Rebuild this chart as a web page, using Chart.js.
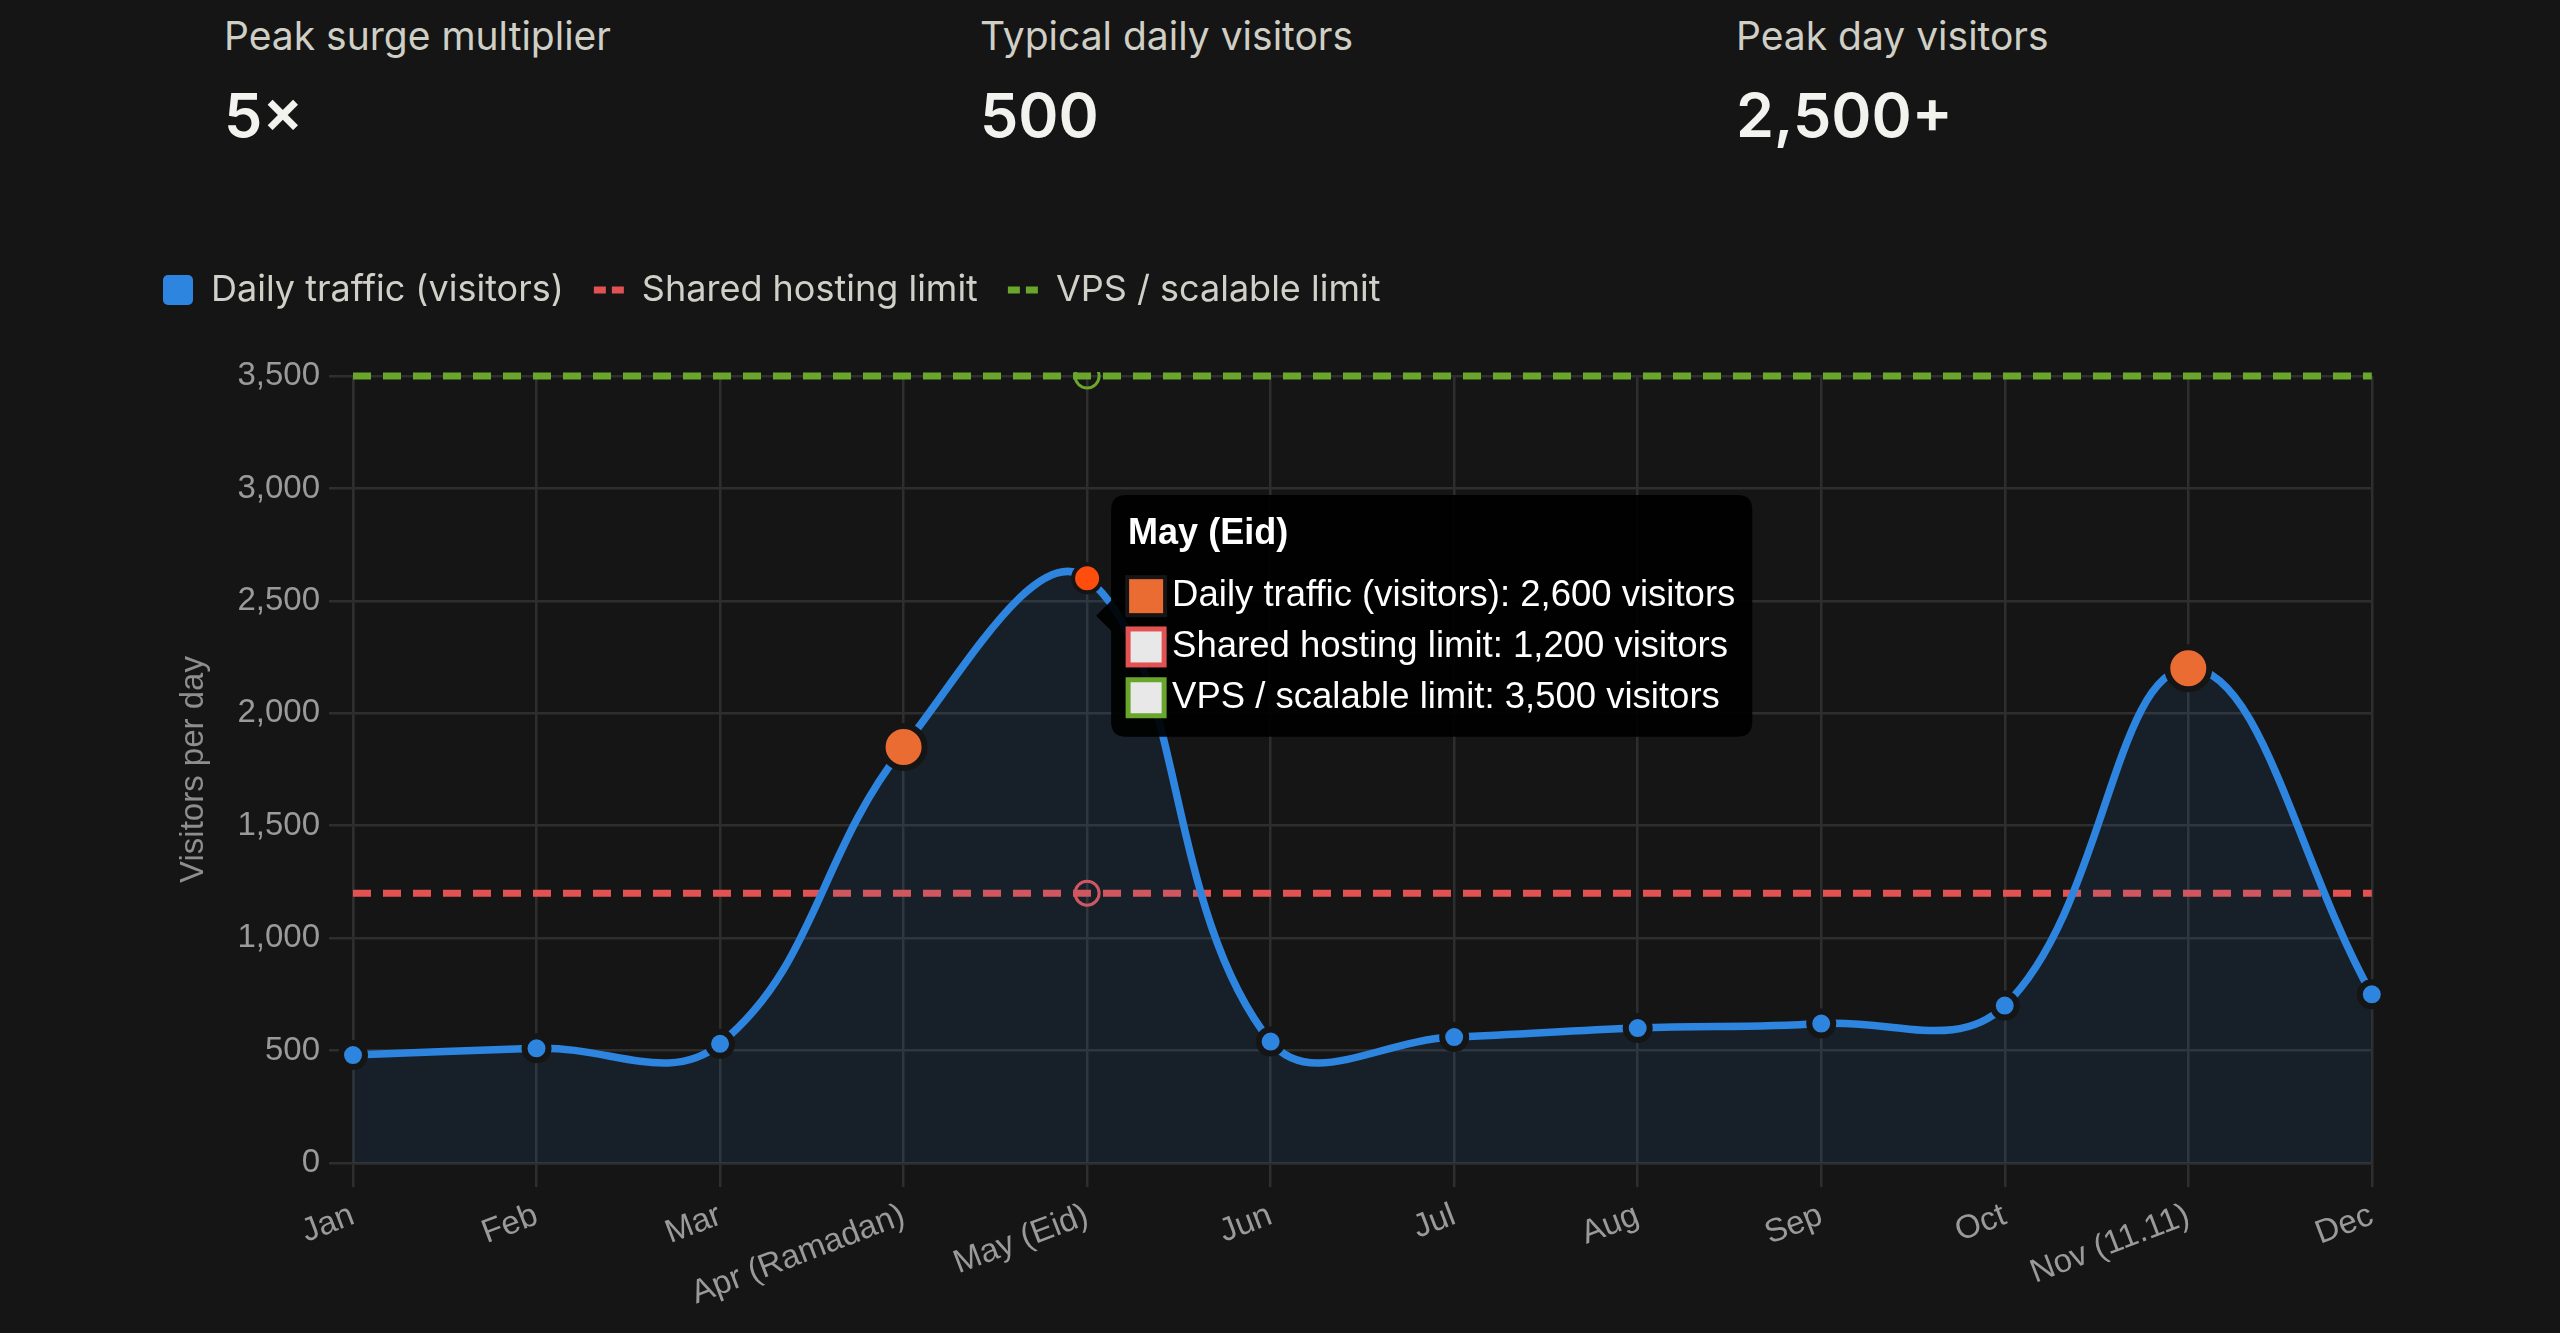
<!DOCTYPE html>
<html>
<head>
<meta charset="utf-8">
<title>Seasonal traffic vs hosting limits</title>
<script src="https://cdn.jsdelivr.net/npm/chart.js@4.4.1/dist/chart.umd.min.js"></script>
<style>
  html, body { margin: 0; padding: 0; background: #151515; }
  body { width: 2560px; height: 1333px; position: relative; overflow: hidden; font-family: Inter, "Noto Sans", sans-serif; }
  .stat { position: absolute; top: 13px; }
  .stat .label { font-size: 39px; line-height: 46px; color: #cfcfc6; }
  .stat .value { font-size: 61px; line-height: 80px; font-weight: 600; color: #f2f2ee; margin-top: 16px; }
  #chart { position: absolute; left: 133px; top: 242px; }
</style>
</head>
<body>
<div class="stat" style="left:224px"><div class="label">Peak surge multiplier</div><div class="value">5×</div></div>
<div class="stat" style="left:980px"><div class="label">Typical daily visitors</div><div class="value">500</div></div>
<div class="stat" style="left:1736px"><div class="label">Peak day visitors</div><div class="value">2,500+</div></div>

<canvas id="chart" width="2262" height="1091"></canvas>

<script>
// Data
var months = ["Jan", "Feb", "Mar", "Apr (Ramadan)", "May (Eid)", "Jun", "Jul", "Aug", "Sep", "Oct", "Nov (11.11)", "Dec"];
var dailyTraffic = [480, 510, 530, 1850, 2600, 540, 560, 600, 620, 700, 2200, 750];
var sharedLimit = [1200, 1200, 1200, 1200, 1200, 1200, 1200, 1200, 1200, 1200, 1200, 1200];
var vpsLimit = [3500, 3500, 3500, 3500, 3500, 3500, 3500, 3500, 3500, 3500, 3500, 3500];
var surgeMonths = ["Apr (Ramadan)", "May (Eid)", "Nov (11.11)"];
var yTicks = [0, 500, 1000, 1500, 2000, 2500, 3000, 3500];

var BG = "#151515";
var BLUE = "#2d85e0";
var ORANGE = "#eb6c32";
var RED = "#e25252";
var GREEN = "#6aa52c";

Chart.defaults.font.family = "Helvetica, Arial, 'Liberation Sans', sans-serif";

var isSurge = months.map(function(m){ return surgeMonths.indexOf(m) !== -1; });

// Rounded square used as the legend icon of the traffic series
function roundedBox(color)
{
    var c = document.createElement("canvas");
    c.width = 30;
    c.height = 30;
    var ctx = c.getContext("2d");
    ctx.fillStyle = color;
    ctx.beginPath();
    ctx.roundRect(0, 0, 30, 30, 5);
    ctx.fill();
    return c;
}

// Push the plot down a bit below the legend
var legendGap = {
    id: "legendGap",
    beforeInit: function(chart){
        var fit = chart.legend.fit;
        chart.legend.fit = function(){
            fit.call(this);
            this.height += 58;
        };
    }
};

var legendColors = [BLUE, RED, GREEN];
var blueIcon = roundedBox(BLUE);

var chart = new Chart(document.getElementById("chart"), {
    type: "line",
    data: {
        labels: months,
        datasets: [
            {
                label: "Daily traffic (visitors)",
                data: dailyTraffic,
                borderColor: BLUE,
                backgroundColor: "rgba(45,133,224,0.1)",
                borderWidth: 7.5,
                fill: "origin",
                tension: 0.4,
                clip: 30,
                pointRadius: isSurge.map(function(s){ return s ? 21 : 12; }),
                pointBackgroundColor: isSurge.map(function(s){ return s ? ORANGE : BLUE; }),
                pointBorderColor: BG,
                pointBorderWidth: 6,
                pointHoverRadius: 14,
                pointHoverBackgroundColor: "#ff4d0d",
                pointHoverBorderColor: BG,
                pointHoverBorderWidth: 4
            },
            {
                label: "Shared hosting limit",
                data: sharedLimit,
                borderColor: RED,
                backgroundColor: "transparent",
                borderWidth: 7,
                borderDash: [18, 12],
                fill: false,
                clip: 20,
                pointRadius: 0,
                pointBackgroundColor: "transparent",
                pointBorderColor: RED,
                pointBorderWidth: 5,
                pointHoverRadius: 12,
                pointHoverBackgroundColor: "transparent",
                pointHoverBorderColor: RED,
                pointHoverBorderWidth: 3
            },
            {
                label: "VPS / scalable limit",
                data: vpsLimit,
                borderColor: GREEN,
                backgroundColor: "transparent",
                borderWidth: 7,
                borderDash: [18, 12],
                fill: false,
                clip: 4,
                pointRadius: 0,
                pointBackgroundColor: "transparent",
                pointBorderColor: GREEN,
                pointBorderWidth: 5,
                pointHoverRadius: 12,
                pointHoverBackgroundColor: "transparent",
                pointHoverBorderColor: GREEN,
                pointHoverBorderWidth: 3
            }
        ]
    },
    options: {
        responsive: false,
        animation: false,
        events: [],
        interaction: { mode: "index", intersect: false },
        layout: { padding: 0 },
        plugins: {
            legend: {
                position: "top",
                align: "start",
                labels: {
                    usePointStyle: true,
                    pointStyleWidth: 30,
                    boxHeight: 30,
                    padding: 30,
                    color: "#d0d0c8",
                    font: { family: "Inter, 'Noto Sans', sans-serif", size: 36 },
                    generateLabels: function(chart){
                        return chart.data.datasets.map(function(ds, i){
                            return {
                                text: ds.label,
                                datasetIndex: i,
                                fillStyle: legendColors[i],
                                strokeStyle: legendColors[i],
                                lineWidth: i === 0 ? 0 : 7,
                                lineDash: i === 0 ? [] : [12, 6],
                                pointStyle: i === 0 ? blueIcon : "line",
                                fontColor: "#d0d0c8",
                                hidden: false
                            };
                        });
                    }
                }
            },
            tooltip: {
                backgroundColor: "rgba(0,0,0,0.93)",
                titleColor: "#fff",
                bodyColor: "#fff",
                titleFont: { size: 36, weight: "bold" },
                bodyFont: { size: 36.5 },
                padding: 17,
                titleMarginBottom: 19,
                bodySpacing: 7,
                caretSize: 15,
                caretPadding: 9,
                cornerRadius: 15,
                boxWidth: 36,
                boxHeight: 36,
                boxPadding: 6,
                multiKeyBackground: "#e8e8e8",
                callbacks: {
                    label: function(ctx){
                        return ctx.dataset.label + ": " + ctx.parsed.y.toLocaleString("en-US") + " visitors";
                    }
                }
            }
        },
        scales: {
            x: {
                afterFit: function(scale){ scale.height = 170; },
                grid: { color: "#2e2e2e", lineWidth: 2.5, tickLength: 24 },
                border: { color: "#2e2e2e", width: 2.5 },
                ticks: {
                    color: "#9a9a9a",
                    font: { size: 33 },
                    minRotation: 21,
                    maxRotation: 21,
                    padding: 9
                }
            },
            y: {
                min: yTicks[0],
                max: yTicks[yTicks.length - 1],
                afterFit: function(scale){ scale.width = 220; },
                grid: { color: "#2e2e2e", lineWidth: 2.5, tickLength: 24 },
                border: { color: "#2e2e2e", width: 2.5 },
                ticks: {
                    stepSize: yTicks[1] - yTicks[0],
                    color: "#9a9a9a",
                    font: { size: 33 },
                    padding: 9,
                    callback: function(v){ return v.toLocaleString("en-US"); }
                },
                title: {
                    display: true,
                    text: "Visitors per day",
                    color: "#8e8e8e",
                    font: { size: 33 },
                    padding: { top: 41, bottom: 8 }
                }
            }
        }
    },
    plugins: [legendGap]
});

// Show the tooltip for the Eid peak, as in the screenshot
var mayIdx = months.indexOf("May (Eid)");
var active = chart.data.datasets.map(function(ds, i){ return { datasetIndex: i, index: mayIdx }; });
chart.setActiveElements(active);
chart.tooltip.setActiveElements(active, { x: 0, y: 0 });
chart.update();
</script>
</body>
</html>
